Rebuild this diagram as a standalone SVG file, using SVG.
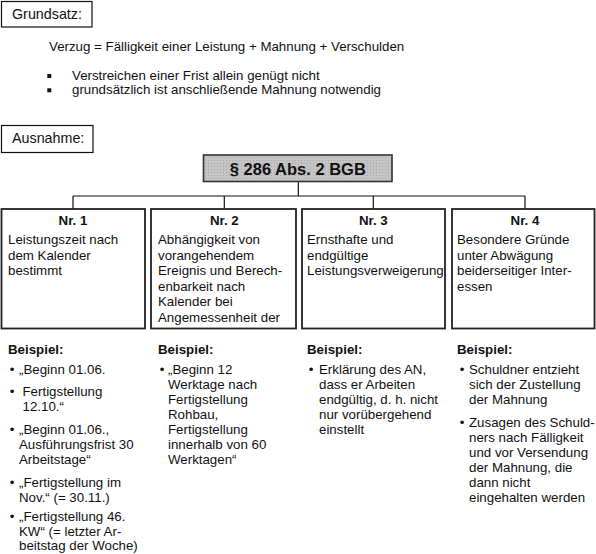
<svg xmlns="http://www.w3.org/2000/svg" width="596" height="554" viewBox="0 0 596 554">
<defs>
<pattern id="dots" width="3" height="3" patternUnits="userSpaceOnUse">
<rect width="3" height="3" fill="#c4c4c4"/>
<rect x="1" y="1" width="1" height="1" fill="#a8a8a8"/>
</pattern>
</defs>
<style>
text{font-family:"Liberation Sans",Arial,sans-serif;font-size:13.3px;fill:#111}
.b{font-weight:bold}
.h{font-size:14.3px}
.t{font-weight:bold;font-size:16.5px;text-anchor:middle}
.nr{font-weight:bold;font-size:13.3px;text-anchor:middle}
.bul{text-anchor:middle}
.box{fill:#fff;stroke:#222;stroke-width:1.8}
.lbl{fill:#fff;stroke:#111;stroke-width:1.2}
.con{fill:none;stroke:#111;stroke-width:1.2}
</style>
<g id="grundsatz">
<rect class="lbl" x="1.5" y="1.5" width="90.5" height="25.5" stroke-width="1.6"/>
<text class="h" x="12" y="19">Grundsatz:</text>
</g>
<g id="grundsatz-text">
<text x="49" y="51">Verzug = Fälligkeit einer Leistung + Mahnung + Verschulden</text>
<rect x="47.3" y="74" width="4" height="4" fill="#111"/>
<text x="72" y="80">Verstreichen einer Frist allein genügt nicht</text>
<rect x="47.3" y="88.3" width="4" height="4" fill="#111"/>
<text x="72" y="94">grundsätzlich ist anschließende Mahnung notwendig</text>
</g>
<g id="ausnahme">
<rect class="lbl" x="1.5" y="125.5" width="91.5" height="27"/>
<text class="h" x="12" y="143">Ausnahme:</text>
</g>
<g id="connectors">
<path class="con" d="M298.3 182 V196 M73 196 H525 M73 196 V209 M224.3 196 V209 M373.3 196 V209 M525 196 V209"/>
</g>
<g id="bgb">
<rect x="203.5" y="155" width="188.5" height="26.5" fill="url(#dots)" stroke="#333" stroke-width="1.6"/>
<text class="t" x="297.8" y="174.5">§ 286 Abs. 2 BGB</text>
</g>
<g id="nr1">
<rect class="box" x="1.5" y="209" width="143.5" height="119.5"/>
<text class="nr" x="73" y="225">Nr. 1</text>
<text x="8" y="244">Leistungszeit nach</text>
<text x="8" y="259.5">dem Kalender</text>
<text x="8" y="275">bestimmt</text>
</g>
<g id="nr2">
<rect class="box" x="151" y="209" width="145" height="119.5"/>
<text class="nr" x="224.3" y="225">Nr. 2</text>
<text x="158" y="244">Abhängigkeit von</text>
<text x="158" y="259.5">vorangehendem</text>
<text x="158" y="275">Ereignis und Berech-</text>
<text x="158" y="290.5">enbarkeit nach</text>
<text x="158" y="306">Kalender bei</text>
<text x="158" y="321.5">Angemessenheit der</text>
</g>
<g id="nr3">
<rect class="box" x="302" y="209" width="143" height="119.5"/>
<text class="nr" x="373.3" y="225">Nr. 3</text>
<text x="307" y="244">Ernsthafte und</text>
<text x="307" y="259.5">endgültige</text>
<text x="307" y="275">Leistungsverweigerung</text>
</g>
<g id="nr4">
<rect class="box" x="452" y="209" width="142.5" height="119.5"/>
<text class="nr" x="525" y="225">Nr. 4</text>
<text x="457" y="244">Besondere Gründe</text>
<text x="457" y="259.5">unter Abwägung</text>
<text x="457" y="275">beiderseitiger Inter-</text>
<text x="457" y="290.5">essen</text>
</g>
<g id="beispiel1">
<text class="b" x="8" y="354">Beispiel:</text>
<text class="bul" x="12" y="374">•</text>
<text x="19" y="374">„Beginn 01.06.</text>
<text class="bul" x="12" y="396">•</text>
<text x="22.5" y="396">Fertigstellung</text>
<text x="22.5" y="411">12.10.“</text>
<text class="bul" x="12" y="433.5">•</text>
<text x="19" y="433.5">„Beginn 01.06.,</text>
<text x="19" y="448.5">Ausführungsfrist 30</text>
<text x="19" y="463.5">Arbeitstage“</text>
<text class="bul" x="12" y="486.5">•</text>
<text x="19" y="486.5">„Fertigstellung im</text>
<text x="19" y="501.5">Nov.“ (= 30.11.)</text>
<text class="bul" x="12" y="521">•</text>
<text x="19" y="521">„Fertigstellung 46.</text>
<text x="19" y="535.5">KW“ (= letzter Ar-</text>
<text x="19" y="550">beitstag der Woche)</text>
</g>
<g id="beispiel2">
<text class="b" x="158" y="354">Beispiel:</text>
<text class="bul" x="162" y="374">•</text>
<text x="168" y="374">„Beginn 12</text>
<text x="168" y="389">Werktage nach</text>
<text x="168" y="404">Fertigstellung</text>
<text x="168" y="419">Rohbau,</text>
<text x="168" y="434">Fertigstellung</text>
<text x="168" y="449">innerhalb von 60</text>
<text x="168" y="464">Werktagen“</text>
</g>
<g id="beispiel3">
<text class="b" x="307" y="354">Beispiel:</text>
<text class="bul" x="311" y="374">•</text>
<text x="319" y="374">Erklärung des AN,</text>
<text x="319" y="389">dass er Arbeiten</text>
<text x="319" y="404">endgültig, d. h. nicht</text>
<text x="319" y="419">nur vorübergehend</text>
<text x="319" y="434">einstellt</text>
</g>
<g id="beispiel4">
<text class="b" x="457" y="354">Beispiel:</text>
<text class="bul" x="462" y="374">•</text>
<text x="469" y="374">Schuldner entzieht</text>
<text x="469" y="389">sich der Zustellung</text>
<text x="469" y="404">der Mahnung</text>
<text class="bul" x="462" y="427">•</text>
<text x="469" y="427">Zusagen des Schuld-</text>
<text x="469" y="442">ners nach Fälligkeit</text>
<text x="469" y="457">und vor Versendung</text>
<text x="469" y="472">der Mahnung, die</text>
<text x="469" y="487">dann nicht</text>
<text x="469" y="502">eingehalten werden</text>
</g>
</svg>
